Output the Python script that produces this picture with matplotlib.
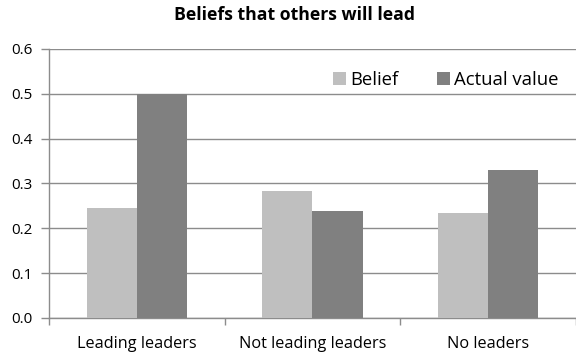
import matplotlib
matplotlib.use("Agg")
import matplotlib.pyplot as plt
import numpy as np

categories = ["Leading leaders", "Not leading leaders", "No leaders"]
belief = [0.246, 0.283, 0.235]
actual = [0.500, 0.238, 0.330]
series_names = ["Belief", "Actual value"]
yticks = [0.0, 0.1, 0.2, 0.3, 0.4, 0.5, 0.6]

plt.rcParams["font.family"] = ["Open Sans", "DejaVu Sans"]

fig = plt.figure(figsize=(5.76, 3.54), dpi=100)
ax = fig.add_axes([0.085, 0.1017, 0.915, 0.76])

x = np.arange(len(categories))
w = 1 / 3.5
ax.bar(x - w / 2, belief, w, color="#BFBFBF", label=series_names[0], zorder=3)
ax.bar(x + w / 2, actual, w, color="#808080", label=series_names[1], zorder=3)

ax.set_xlim(-0.5, len(categories) - 0.5)
ax.set_ylim(0, 0.6)
ax.set_yticks(yticks)
ax.set_yticklabels([f"{v:.1f}" for v in yticks], fontsize=11)
ax.yaxis.grid(True, color="#8C8C8C", linewidth=1, zorder=0)

# category labels centred, boundary tick marks below axis
ax.set_xticks(x)
ax.set_xticklabels(categories, fontsize=11.7)
ax.tick_params(axis="x", length=0, pad=13)
ax.set_xticks(np.arange(-0.5, len(categories), 1.0), minor=True)
ax.tick_params(axis="x", which="minor", length=5, color="#8C8C8C", width=1)
ax.tick_params(axis="y", length=6, color="#8C8C8C", width=1, pad=6)

for s in ["top", "right"]:
    ax.spines[s].set_visible(False)
for s in ["left", "bottom"]:
    ax.spines[s].set_color("#8C8C8C")
    ax.spines[s].set_linewidth(1)

ax.set_title("Beliefs that others will lead", fontsize=12.7, fontweight="bold",
             pad=21, x=0.4666)

ax.legend(loc="upper right", bbox_to_anchor=(0.98, 0.945), ncol=2, frameon=False,
          fontsize=13.3, handlelength=0.7, handleheight=0.7, handletextpad=0.2,
          columnspacing=2.1, borderaxespad=0.0)

fig.savefig("out.png", dpi=100)
